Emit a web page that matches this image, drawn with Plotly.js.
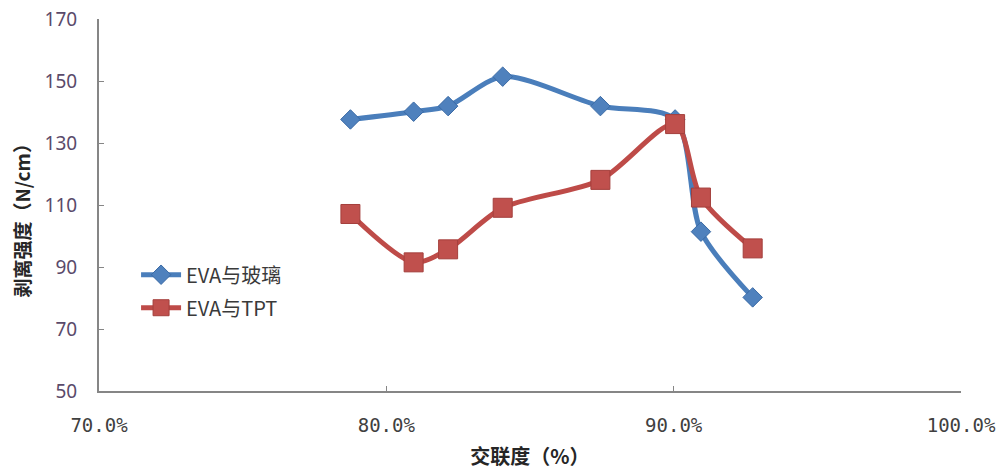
<!DOCTYPE html>
<html>
<head>
<meta charset="utf-8">
<script src="https://cdn.plot.ly/plotly-3.0.1.min.js"></script>
<style>
html,body{margin:0;padding:0;background:#fff;}
#chart{width:998px;height:473px;}
</style>
</head>
<body>
<div id="chart"></div>
<script>
// Data
const seriesNames = ["EVA与玻璃", "EVA与TPT"];
const glassX = [78.75, 80.95, 82.15, 84.05, 87.45, 90.05, 90.95, 92.75];
const glassY = [137.6, 140.1, 141.9, 151.4, 141.9, 137.6, 101.4, 80.2];
const tptX   = [78.75, 80.95, 82.15, 84.05, 87.45, 90.05, 90.95, 92.75];
const tptY   = [107.1, 91.5, 95.7, 109.1, 118.1, 136.1, 112.4, 96.0];
const xTickVals = [70, 80, 90, 100];
const xTickText = ["70.0%", "80.0%", "90.0%", "100.0%"];
const yTickVals = [50, 70, 90, 110, 130, 150, 170];
const xTitle = "交联度（%）";
const yTitle = "剥离强度（N/cm）";

const traces = [
  {
    x: glassX, y: glassY, name: seriesNames[0], type: "scatter", mode: "lines+markers",
    legendgroup: "a",
    line: {color: "#4a7ebb", width: 5, shape: "spline", smoothing: 0.8},
    marker: {symbol: "diamond", size: 15, color: "#4f81bd", line: {color: "#3a6aa5", width: 1}}
  },
  {
    x: tptX, y: tptY, name: seriesNames[1], type: "scatter", mode: "lines+markers",
    legendgroup: "b",
    line: {color: "#be4b48", width: 5, shape: "spline", smoothing: 0.8},
    marker: {symbol: "square", size: 19, color: "#c0504d", line: {color: "#a43f3c", width: 1}}
  }
];

const layout = {
  width: 998, height: 473,
  margin: {l: 99, r: 37, t: 19, b: 82},
  paper_bgcolor: "#ffffff", plot_bgcolor: "#ffffff",
  showlegend: true,
  legend: {
    x: 0.043, y: 0.365, xanchor: "left", yanchor: "top",
    bgcolor: "rgba(0,0,0,0)", tracegroupgap: 4, itemwidth: 40,
    font: {family: "Noto Sans CJK SC, Noto Sans, sans-serif", size: 20, color: "#3a3a3a"}
  },
  xaxis: {
    range: [70, 100], tickvals: xTickVals, ticktext: xTickText,
    showgrid: false, zeroline: false, showline: true, linecolor: "#868686", linewidth: 2,
    ticks: "inside", ticklen: 5, tickcolor: "#868686", tickwidth: 1,
    tickfont: {family: "DejaVu Sans Mono, monospace", size: 19, color: "#404040"},
    ticklabelstandoff: 16,
    title: {text: "<b>" + xTitle + "</b>", standoff: 15,
      font: {family: "Noto Sans CJK SC, sans-serif", size: 20, color: "#262626"}}
  },
  yaxis: {
    range: [50, 170], tickvals: yTickVals,
    showgrid: false, zeroline: false, showline: true, linecolor: "#868686", linewidth: 2,
    ticks: "inside", ticklen: 5, tickcolor: "#868686", tickwidth: 1,
    tickfont: {family: "Noto Sans, sans-serif", size: 19, color: "#5a4a6a"},
    ticklabelstandoff: 16
  },
  annotations: [
    {
      text: "<b>" + yTitle + "</b>", textangle: -90,
      xref: "paper", yref: "paper", x: -0.09, y: 0.47, xanchor: "center", yanchor: "middle",
      showarrow: false,
      font: {family: "Noto Sans CJK SC, sans-serif", size: 19, color: "#262626"}
    }
  ]
};

Plotly.newPlot("chart", traces, layout, {displayModeBar: false, staticPlot: true});
</script>
</body>
</html>
